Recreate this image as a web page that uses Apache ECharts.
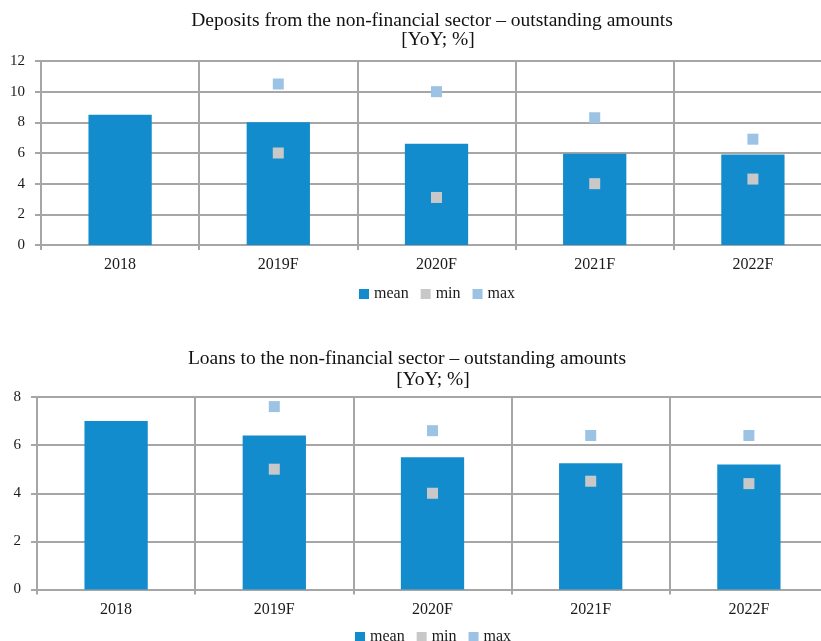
<!DOCTYPE html>
<html>
<head>
<meta charset="utf-8">
<script src="https://cdn.jsdelivr.net/npm/echarts@6/dist/echarts.min.js"></script>
<style>
  html, body { margin: 0; padding: 0; background: #fff; }
  #chart { width: 821px; height: 641px; }
</style>
</head>
<body>
<div id="chart"></div>
<script>
// Categories shared by both panels
const years = ['2018', '2019F', '2020F', '2021F', '2022F'];

// Deposits from the non-financial sector (YoY, %)
const depositsMean = [8.5, 8.0, 6.6, 5.95, 5.9];
const depositsMin = [null, 6.0, 3.1, 4.0, 4.3];
const depositsMax = [null, 10.5, 10.0, 8.3, 6.9];

// Loans to the non-financial sector (YoY, %)
const loansMean = [7.0, 6.4, 5.5, 5.25, 5.2];
const loansMin = [null, 5.0, 4.0, 4.5, 4.4];
const loansMax = [null, 7.6, 6.6, 6.4, 6.4];

const FONT = 'Liberation Serif';
const GRIDLINE = '#a6a6a6';
const C_MEAN = '#128ccc';
const C_MIN = '#c8c8c8';
const C_MAX = '#9dc3e4';

function xAxisFor(gridIndex) {
  return {
    type: 'category',
    gridIndex,
    data: years,
    boundaryGap: true,
    axisLine: { show: true, lineStyle: { color: GRIDLINE, width: 2 } },
    axisTick: { show: true, length: 5, lineStyle: { color: GRIDLINE, width: 2 } },
    splitLine: { show: true, interval: 0, lineStyle: { color: GRIDLINE, width: 2 } },
    axisLabel: { color: '#1a1a1a', fontFamily: FONT, fontSize: 16, margin: 12 }
  };
}

function yAxisFor(gridIndex, max) {
  return {
    type: 'value',
    gridIndex,
    min: 0,
    max,
    interval: 2,
    axisLine: { show: true, lineStyle: { color: GRIDLINE, width: 2 } },
    axisTick: { show: true, length: 6, lineStyle: { color: GRIDLINE, width: 2 } },
    splitLine: { show: true, lineStyle: { color: GRIDLINE, width: 2 } },
    axisLabel: { color: '#1a1a1a', fontFamily: FONT, fontSize: 15, margin: 16 }
  };
}

function seriesFor(idx, mean, mn, mx) {
  return [
    {
      name: 'mean', type: 'bar', xAxisIndex: idx, yAxisIndex: idx,
      data: mean, barWidth: '40%',
      itemStyle: { color: C_MEAN }
    },
    {
      name: 'min', type: 'scatter', xAxisIndex: idx, yAxisIndex: idx,
      data: mn, symbol: 'rect', symbolSize: 11,
      itemStyle: { color: C_MIN, opacity: 1 }
    },
    {
      name: 'max', type: 'scatter', xAxisIndex: idx, yAxisIndex: idx,
      data: mx, symbol: 'rect', symbolSize: 11,
      itemStyle: { color: C_MAX, opacity: 1 }
    }
  ];
}

const titleStyle = { color: '#111', fontFamily: FONT, fontSize: 19.5, fontWeight: 'normal' };

const legendItems = [
  { name: 'mean', icon: 'rect' },
  { name: 'min', icon: 'rect' },
  { name: 'max', icon: 'rect' }
];

const option = {
  animation: false,
  backgroundColor: '#fff',
  title: [
    { text: 'Deposits from the non-financial sector – outstanding amounts', left: 432, textAlign: 'center', top: 11, textStyle: titleStyle, padding: 0 },
    { text: '[YoY; %]', left: 438, textAlign: 'center', top: 30, textStyle: titleStyle, padding: 0 },
    { text: 'Loans to the non-financial sector – outstanding amounts', left: 407, textAlign: 'center', top: 349, textStyle: titleStyle, padding: 0 },
    { text: '[YoY; %]', left: 433, textAlign: 'center', top: 370, textStyle: titleStyle, padding: 0 }
  ],
  legend: [
    {
      left: 359, top: 286, itemWidth: 10, itemHeight: 10, itemGap: 12, padding: 0,
      data: legendItems,
      textStyle: { color: '#1a1a1a', fontFamily: FONT, fontSize: 16 }
    },
    {
      left: 355, top: 629, itemWidth: 10, itemHeight: 10, itemGap: 12, padding: 0,
      data: legendItems,
      textStyle: { color: '#1a1a1a', fontFamily: FONT, fontSize: 16 }
    }
  ],
  grid: [
    { left: 41, top: 61, width: 791, height: 184, outerBoundsMode: 'none' },
    { left: 37, top: 397, width: 791, height: 192.5, outerBoundsMode: 'none' }
  ],
  xAxis: [xAxisFor(0), xAxisFor(1)],
  yAxis: [yAxisFor(0, 12), yAxisFor(1, 8)],
  series: [
    ...seriesFor(0, depositsMean, depositsMin, depositsMax),
    ...seriesFor(1, loansMean, loansMin, loansMax)
  ]
};

const chart = echarts.init(document.getElementById('chart'), null, { renderer: 'canvas' });
chart.setOption(option);
</script>
</body>
</html>
